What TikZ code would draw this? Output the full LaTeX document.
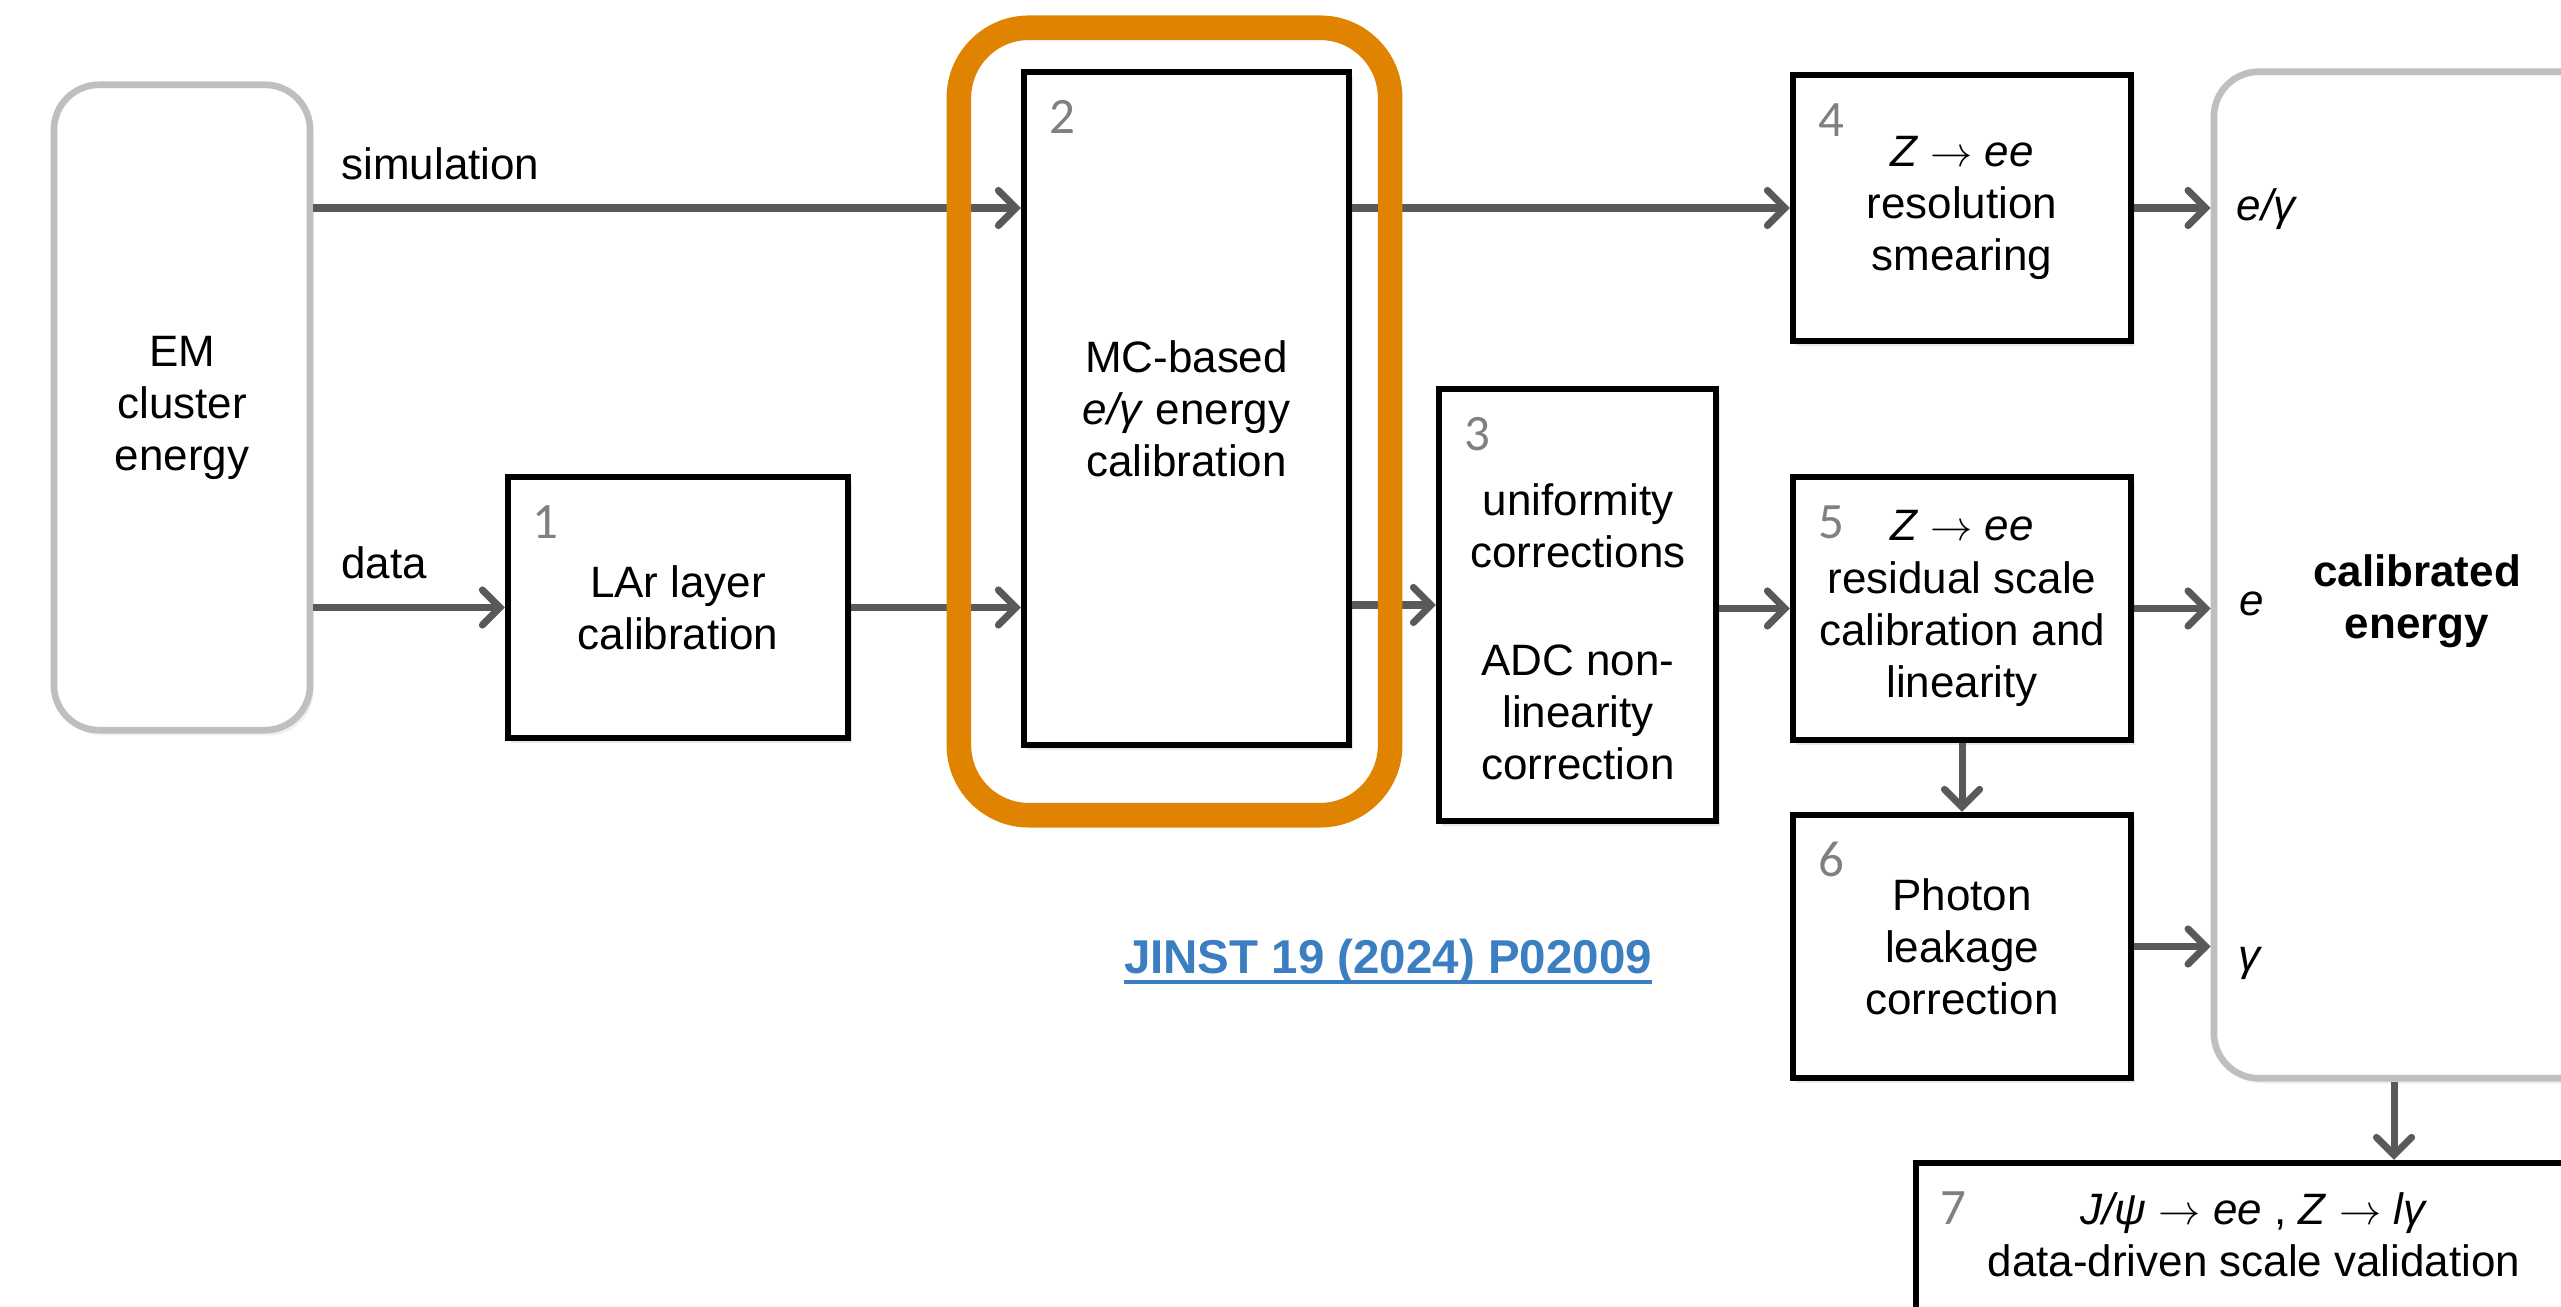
\documentclass[tikz,border=0pt]{standalone}
\usepackage{fontspec}
\setmainfont{Liberation Sans}
\newfontfamily\numfont{Carlito}
\usepackage{tikz}
\usetikzlibrary{arrows.meta,positioning,shadows}
\definecolor{arrgray}{HTML}{595959}
\definecolor{boxgray}{HTML}{BFBFBF}
\definecolor{hlorange}{HTML}{E08300}
\definecolor{linkblue}{HTML}{3B7EC2}
\tikzset{
  txt/.style={align=center,font=\fontsize{12.5}{14.8}\selectfont,inner sep=1pt},
  blk/.style={txt,draw=black,line width=1.7pt,fill=white,
    drop shadow={shadow xshift=1pt,shadow yshift=-1.5pt,opacity=0.18}},
  rnd/.style={txt,draw=boxgray,line width=1.9pt,fill=white,rounded corners=0.45cm,
    drop shadow={shadow xshift=1pt,shadow yshift=-1.5pt,opacity=0.12}},
  num/.style={font=\numfont\fontsize{14.5}{16}\selectfont,text=black!50,inner sep=0pt},
  lbl/.style={txt,anchor=south west,inner sep=7pt},
  flow/.style={draw=arrgray,line width=2pt,
    -{Straight Barb[length=5pt,width=10pt,line cap=round]}},
}
\newcommand{\boxnum}[2]{\node[num] at ([shift={(41,48)}]#1.north west) {#2};}
\newcommand{\arr}{ $\rightarrow$ }
\newcommand{\thickul}[1]{\leavevmode\setbox0\hbox{#1}\rlap{\rule[-3pt]{\wd0}{1.4pt}}\box0}

\begin{document}
\begin{tikzpicture}[x=0.01cm,y=-0.01cm]
\useasboundingbox (0,0) rectangle (2561,1307);
\clip (0,0) rectangle (2561,1307);

% boxes
\node[rnd,minimum width=2.56cm,minimum height=6.45cm] (em) at (182,407.5) {EM\\cluster\\energy};
\node[blk,minimum width=3.40cm,minimum height=2.61cm] (lar) at (678,607.5) {LAr layer\\calibration};
\node[blk,minimum width=3.25cm,minimum height=6.73cm] (mc) at (1186.5,408.5) {MC-based\\\textit{e/γ} energy\\calibration};
\node[blk,minimum width=2.77cm,minimum height=4.32cm] (unif) at (1577.5,605) {};
\node[txt] (uniftxt) at (1578,632) {uniformity\\corrections\\[16pt]ADC non-\\linearity\\correction};
\node[blk,minimum width=3.38cm,minimum height=2.66cm] (smear) at (1962,208) {\textit{Z}\arr\textit{ee}\\resolution\\smearing};
\node[blk,minimum width=3.38cm,minimum height=2.63cm] (resid) at (1962,608.5) {\textit{Z}\arr\textit{ee}\\residual scale\\calibration and\\linearity};
\node[blk,minimum width=3.38cm,minimum height=2.63cm] (leak) at (1962,946.5) {Photon\\leakage\\correction};
\node[rnd,minimum width=4.26cm,minimum height=10.06cm] (calib) at (2427,575) {};
\node[txt,font=\fontsize{12.5}{14.8}\selectfont\bfseries] (calibtxt) at (2417,601) {calibrated\\energy};
\node[blk,minimum width=9.56cm,minimum height=2.37cm] (valid) at (2394,1281.5) {};
\node[txt] (validtxt) at (2254,1235) {\textit{J/ψ}\arr\textit{ee} , \textit{Z}\arr\textit{lγ}\\data-driven scale validation};

% step numbers
\boxnum{lar}{1}
\boxnum{mc}{2}
\boxnum{unif}{3}
\boxnum{smear}{4}
\boxnum{resid}{5}
\boxnum{leak}{6}
\boxnum{valid}{7}

% outputs
\node[txt] (peg) at (2267,209) {\textit{e/γ}};
\node[txt] (pe) at (2252,604) {\textit{e}};
\node[txt] (pg) at (2250,963) {\textit{γ}};

% connectors
\draw[flow] (em.east |- smear) -- node[lbl,pos=0] {simulation} (mc.west |- smear);
\draw[flow] (em.east |- lar) -- node[lbl,pos=0] {data} (lar.west);
\draw[flow] (lar.east) -- (mc.west |- lar);
\draw[flow] (mc.east |- smear) -- (smear.west);
\draw[flow] (mc.east |- unif) -- (unif.west);
\draw[flow] (unif.east |- resid) -- (resid.west);
\draw[flow] (smear.east) -- (calib.west |- smear);
\draw[flow] (resid.east) -- (calib.west |- resid);
\draw[flow] (leak.east) -- (calib.west |- leak);
\draw[flow] (resid.south) -- (leak.north);
\draw[flow] (calib.south -| valid) -- (valid.north);

% highlight round step 2
\node[draw=hlorange,line width=7pt,rounded corners=0.7cm,minimum width=4.31cm,minimum height=7.87cm] (hl) at (1174.5,421.5) {};

\node[font=\fontsize{13.5}{16}\selectfont\bfseries,text=linkblue] (ref) at (1388,962) {\thickul{JINST 19 (2024) P02009}};
\end{tikzpicture}
\end{document}
